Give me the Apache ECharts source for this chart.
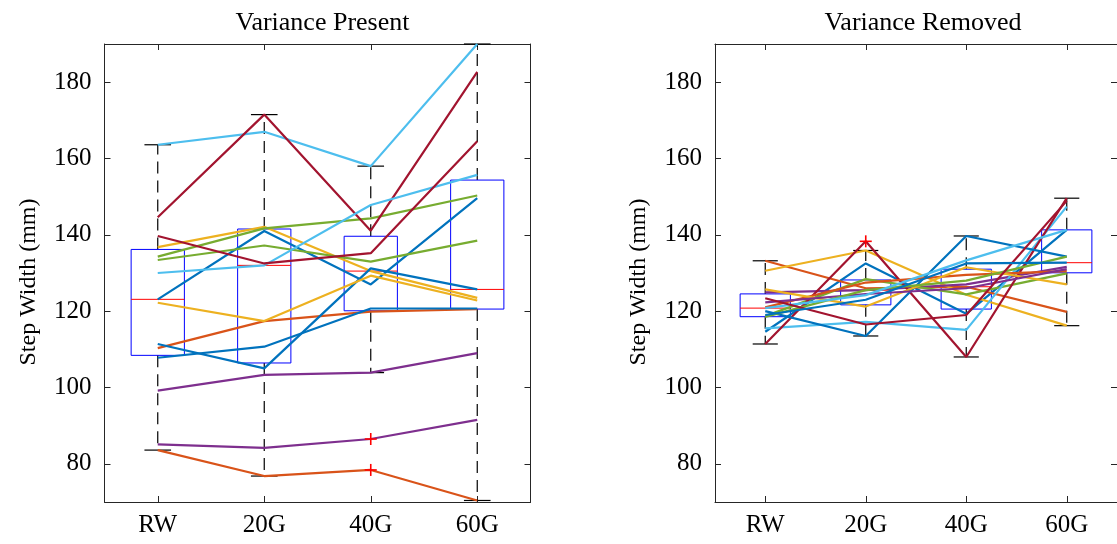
<!DOCTYPE html>
<html>
<head>
<meta charset="utf-8">
<script src="https://cdn.jsdelivr.net/npm/echarts@6/dist/echarts.min.js"></script>
<style>
html,body{margin:0;padding:0;background:#fff;}
#chart{width:1117px;height:544px;}
</style>
</head>
<body>
<div id="chart"></div>
<script>
// ---- data ----
var categories = ['RW', '20G', '40G', '60G'];
var panelTitles = ['Variance Present', 'Variance Removed'];
var yAxisName = 'Step Width (mm)';
var yTicks = [80, 100, 120, 140, 160, 180];
var subjectColors = ['#0072BD', '#D95319', '#EDB120', '#7E2F8E', '#77AC30', '#4DBEEE', '#A2142F'];

// Variance Present: one row per subject (RW, 20G, 40G, 60G)
var presentS1  = [123.1, 141.0, 127.0, 149.6];
var presentS2  = [110.3, 117.4, 119.9, 120.5];
var presentS3  = [136.8, 142.1, 130.5, 123.5];
var presentS4  = [99.2, 103.3, 103.9, 109.0];
var presentS5  = [134.3, 141.7, 144.3, 150.3];
var presentS6  = [163.6, 167.0, 158.0, 190.0];
var presentS7  = [144.6, 171.5, 141.1, 182.7];
var presentS8  = [111.4, 105.0, 131.2, 125.7];
var presentS9  = [83.6, 76.8, 78.4, 70.4];
var presentS10 = [122.2, 117.4, 129.3, 122.8];
var presentS11 = [85.1, 84.2, 86.5, 91.5];
var presentS12 = [133.4, 137.2, 133.0, 138.5];
var presentS13 = [130.0, 132.0, 147.8, 155.7];
var presentS14 = [139.7, 132.5, 135.2, 164.5];
var presentS15 = [107.8, 110.7, 120.7, 120.7];

// Variance Removed
var removedS1  = [114.6, 132.5, 119.3, 141.3];
var removedS2  = [133.2, 126.0, 126.4, 119.8];
var removedS3  = [130.6, 135.9, 124.3, 116.2];
var removedS4  = [124.9, 125.5, 127.0, 131.6];
var removedS5  = [118.7, 128.4, 124.4, 129.9];
var removedS6  = [115.5, 117.2, 115.1, 147.4];
var removedS7  = [111.4, 138.3, 108.0, 149.6];
var removedS8  = [120.0, 113.5, 139.7, 134.3];
var removedS9  = [121.0, 127.5, 129.5, 130.5];
var removedS10 = [125.7, 121.2, 131.5, 127.0];
var removedS11 = [122.3, 124.5, 126.0, 131.0];
var removedS12 = [118.5, 125.5, 128.0, 134.3];
var removedS13 = [120.8, 124.2, 133.3, 141.3];
var removedS14 = [123.4, 116.5, 119.0, 148.9];
var removedS15 = [119.0, 123.0, 132.5, 132.7];

var presentData = [presentS1, presentS2, presentS3, presentS4, presentS5, presentS6, presentS7,
  presentS8, presentS9, presentS10, presentS11, presentS12, presentS13, presentS14, presentS15];
var removedData = [removedS1, removedS2, removedS3, removedS4, removedS5, removedS6, removedS7,
  removedS8, removedS9, removedS10, removedS11, removedS12, removedS13, removedS14, removedS15];

// ---- box statistics (MATLAB-style quantiles, 1.5 IQR whiskers) ----
function quant(sorted, p) {
  var n = sorted.length;
  var pos = n * p + 0.5;
  if (pos <= 1) return sorted[0];
  if (pos >= n) return sorted[n - 1];
  var lo = Math.floor(pos), f = pos - lo;
  return sorted[lo - 1] + f * (sorted[lo] - sorted[lo - 1]);
}
function boxStats(rows) {
  var boxes = [], outliers = [];
  for (var c = 0; c < categories.length; c++) {
    var vals = rows.map(function (r) { return r[c]; }).sort(function (a, b) { return a - b; });
    var q1 = quant(vals, 0.25), med = quant(vals, 0.5), q3 = quant(vals, 0.75);
    var iqr = q3 - q1, loF = q1 - 1.5 * iqr, hiF = q3 + 1.5 * iqr;
    var inside = vals.filter(function (v) { return v >= loF && v <= hiF; });
    vals.forEach(function (v) { if (v < loF || v > hiF) outliers.push([c, v]); });
    boxes.push([c, inside[0], q1, med, q3, inside[inside.length - 1]]);
  }
  return { boxes: boxes, outliers: outliers };
}

var FONT = 'Liberation Serif';
var chart = echarts.init(document.getElementById('chart'), null, { renderer: 'canvas' });

var grids = [
  { left: 104.5, top: 44, width: 426, height: 458 },
  { left: 715, top: 44, width: 406, height: 458 }
];

function boxRender(params, api) {
  var idx = api.value(0);
  var bw = api.size([1, 0])[0];
  var pMin = api.coord([idx, api.value(1)]);
  var pQ1 = api.coord([idx, api.value(2)]);
  var pMed = api.coord([idx, api.value(3)]);
  var pQ3 = api.coord([idx, api.value(4)]);
  var pMax = api.coord([idx, api.value(5)]);
  var x = pMed[0], hb = bw * 0.25, hc = bw * 0.125;
  var dash = { stroke: '#000', lineWidth: 1.2, lineDash: [12, 7] };
  var solid = { stroke: '#000', lineWidth: 1.2 };
  return {
    type: 'group',
    children: [
      { type: 'line', shape: { x1: x, y1: pQ3[1], x2: x, y2: pMax[1] }, style: dash },
      { type: 'line', shape: { x1: x, y1: pQ1[1], x2: x, y2: pMin[1] }, style: dash },
      { type: 'line', shape: { x1: x - hc, y1: pMax[1], x2: x + hc, y2: pMax[1] }, style: solid },
      { type: 'line', shape: { x1: x - hc, y1: pMin[1], x2: x + hc, y2: pMin[1] }, style: solid },
      { type: 'rect', shape: { x: x - hb, y: pQ3[1], width: 2 * hb, height: pQ1[1] - pQ3[1] },
        style: { fill: 'none', stroke: '#0000FF', lineWidth: 1 } },
      { type: 'line', shape: { x1: x - hb, y1: pMed[1], x2: x + hb, y2: pMed[1] },
        style: { stroke: '#FF0000', lineWidth: 1 } }
    ]
  };
}
function plusRender(params, api) {
  var p = api.coord([api.value(0), api.value(1)]);
  var s = 6;
  var st = { stroke: '#FF0000', lineWidth: 1.6 };
  return {
    type: 'group',
    children: [
      { type: 'line', shape: { x1: p[0] - s, y1: p[1], x2: p[0] + s, y2: p[1] }, style: st },
      { type: 'line', shape: { x1: p[0], y1: p[1] - s, x2: p[0], y2: p[1] + s }, style: st }
    ]
  };
}

var xAxes = [], yAxes = [], series = [], titles = [];
[presentData, removedData].forEach(function (rows, g) {
  var axisLineStyle = { color: '#262626', width: 1 };
  xAxes.push({
    type: 'category', data: categories, gridIndex: g, position: 'bottom', boundaryGap: true,
    axisLine: { show: true, lineStyle: axisLineStyle },
    axisTick: { show: true, inside: true, alignWithLabel: true, length: 6, lineStyle: axisLineStyle },
    axisLabel: { color: '#000', fontFamily: FONT, fontSize: 25, margin: 11 },
    splitLine: { show: false }
  });
  xAxes.push({
    type: 'category', data: categories, gridIndex: g, position: 'top', boundaryGap: true,
    axisLine: { show: true, onZero: false, lineStyle: axisLineStyle },
    axisTick: { show: true, inside: true, alignWithLabel: true, length: 6, lineStyle: axisLineStyle },
    axisLabel: { show: false }, splitLine: { show: false }
  });
  yAxes.push({
    type: 'value', gridIndex: g, position: 'left', min: 70, max: 190, splitNumber: 6,
    name: yAxisName, nameLocation: 'middle', nameGap: 64,
    nameTextStyle: { color: '#000', fontFamily: FONT, fontSize: 24, padding: [0, 18, 0, 0] },
    axisLine: { show: true, lineStyle: axisLineStyle },
    axisTick: { show: true, inside: true, length: 6, lineStyle: axisLineStyle },
    axisLabel: { color: '#000', fontFamily: FONT, fontSize: 25, margin: 13,
      showMinLabel: false, showMaxLabel: false,
      formatter: function (v) { return yTicks.indexOf(v) >= 0 ? String(v) : ''; } },
    splitLine: { show: false }
  });
  yAxes.push({
    type: 'value', gridIndex: g, position: 'right', min: 70, max: 190, splitNumber: 6,
    axisLine: { show: true, lineStyle: axisLineStyle },
    axisTick: { show: true, inside: true, length: 6, lineStyle: axisLineStyle },
    axisLabel: { show: false }, splitLine: { show: false }
  });
  var st = boxStats(rows);
  series.push({
    type: 'custom', xAxisIndex: 2 * g, yAxisIndex: 2 * g, renderItem: boxRender,
    data: st.boxes, z: 2, silent: true, clip: false
  });
  rows.forEach(function (r, i) {
    series.push({
      type: 'line', xAxisIndex: 2 * g, yAxisIndex: 2 * g, data: r, symbol: 'none',
      lineStyle: { color: subjectColors[i % subjectColors.length], width: 2.2 },
      itemStyle: { color: subjectColors[i % subjectColors.length] },
      z: 3, silent: true
    });
  });
  series.push({
    type: 'custom', xAxisIndex: 2 * g, yAxisIndex: 2 * g, renderItem: plusRender,
    data: st.outliers, z: 4, silent: true, clip: false
  });
  titles.push({
    text: panelTitles[g],
    left: grids[g].left + grids[g].width / 2, top: 5, textAlign: 'center',
    textStyle: { color: '#000', fontFamily: FONT, fontSize: 26, fontWeight: 'normal' }
  });
});

chart.setOption({
  animation: false,
  backgroundColor: '#fff',
  title: titles,
  grid: grids,
  xAxis: xAxes,
  yAxis: yAxes,
  series: series
});
</script>
</body>
</html>
